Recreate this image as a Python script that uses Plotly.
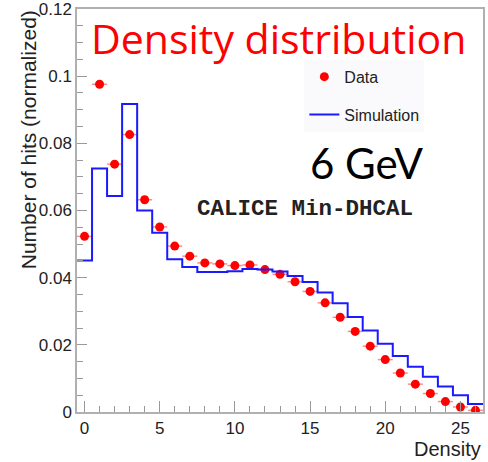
import plotly.graph_objects as go

# Data
density = list(range(27))
data_vals = [0.0523, 0.0976, 0.0738, 0.0826, 0.0632, 0.0551, 0.0494, 0.0464, 0.0444,
             0.0441, 0.0436, 0.0438, 0.0424, 0.0410, 0.0388, 0.0359, 0.0325, 0.0282,
             0.0240, 0.0196, 0.0156, 0.0116, 0.0083, 0.0055, 0.0031, 0.0015, 0.0005]
sim_vals = [0.0451, 0.0725, 0.0643, 0.0917, 0.0600, 0.0534, 0.0455, 0.0432, 0.0417,
            0.0417, 0.0419, 0.0426, 0.0424, 0.0418, 0.0405, 0.0387, 0.0356, 0.0324,
            0.0283, 0.0243, 0.0203, 0.0167, 0.0135, 0.0105, 0.0076, 0.0050, 0.0024]
bin_half_width = 0.5
y_tickvals = [0, 0.02, 0.04, 0.06, 0.08, 0.1, 0.12]
y_ticktext = ["0", "0.02", "0.04", "0.06", "0.08", "0.1", "0.12"]

# step histogram edges
sim_x = [d - bin_half_width for d in density] + [density[-1] + bin_half_width]
sim_y = sim_vals + [sim_vals[-1]]

fig = go.Figure()
fig.add_trace(go.Scatter(
    x=density, y=data_vals, mode="markers", name="Data",
    marker=dict(color="#ff0000", size=9),
    error_x=dict(type="constant", value=bin_half_width, color="rgba(255,0,0,0.45)",
                 thickness=1.5, width=0),
    legendgroup="a",
))
fig.add_trace(go.Scatter(
    x=sim_x, y=sim_y, mode="lines", name="Simulation",
    line=dict(color="#1a1aff", width=2, shape="hv"),
    legendgroup="b",
))

tickfont = dict(family="Liberation Sans, Arial, sans-serif", size=17, color="#222")
axcommon = dict(showline=True, linecolor="#b0b0b0", linewidth=1.5, mirror=True,
                ticks="inside", tickcolor="#999", tickwidth=1.2, showgrid=False,
                zeroline=False, tickfont=tickfont, ticklabeloverflow="allow",
                automargin=False)

fig.update_layout(
    width=488, height=462,
    margin=dict(l=77, r=5, t=9, b=50, autoexpand=False),
    paper_bgcolor="white", plot_bgcolor="white",
    xaxis=dict(range=[-0.5, 26.5], dtick=5, tick0=0, ticklen=11,
               minor=dict(dtick=1, ticklen=6, ticks="inside", tickcolor="#999"),
               **axcommon),
    yaxis=dict(range=[0, 0.12], tickmode="array", tickvals=y_tickvals, ticktext=y_ticktext,
               ticklen=10,
               minor=dict(dtick=0.005, ticklen=6, ticks="inside", tickcolor="#999"),
               **axcommon),
    legend=dict(x=0.56, y=0.874, xanchor="left", yanchor="top",
                bgcolor="#fafafc", borderwidth=0,
                font=dict(family="Liberation Sans, Arial, sans-serif", size=16, color="#222"),
                tracegroupgap=14, traceorder="grouped", itemwidth=30),
    showlegend=True,
)

fig.add_annotation(text="Density distribution", xref="paper", yref="paper",
                   x=0.4975, y=0.927, xanchor="center", yanchor="middle", showarrow=False,
                   font=dict(family="Open Sans, sans-serif", size=41, color="#ff0000"))
fig.add_annotation(text="6 GeV", xref="paper", yref="paper",
                   x=0.714, y=0.618, xanchor="center", yanchor="middle", showarrow=False,
                   font=dict(family="Lato, sans-serif", size=42, color="#000"))
fig.add_annotation(text="<b>CALICE Min-DHCAL</b>", xref="paper", yref="paper",
                   x=0.5616, y=0.504, xanchor="center", yanchor="middle", showarrow=False,
                   font=dict(family="Liberation Mono, Courier New, monospace", size=22.5, color="#222"))
fig.add_annotation(text="Number of hits (normalized)", xref="paper", yref="paper",
                   x=-0.1207, y=1.003, xanchor="center", yanchor="top", textangle=-90,
                   showarrow=False,
                   font=dict(family="Liberation Sans, Arial, sans-serif", size=21, color="#222"))
fig.add_annotation(text="Density", xref="paper", yref="paper",
                   x=1.0, y=-0.092, xanchor="right", yanchor="middle", showarrow=False,
                   font=dict(family="Liberation Sans, Arial, sans-serif", size=20, color="#222"))

fig.write_html("out.html")
